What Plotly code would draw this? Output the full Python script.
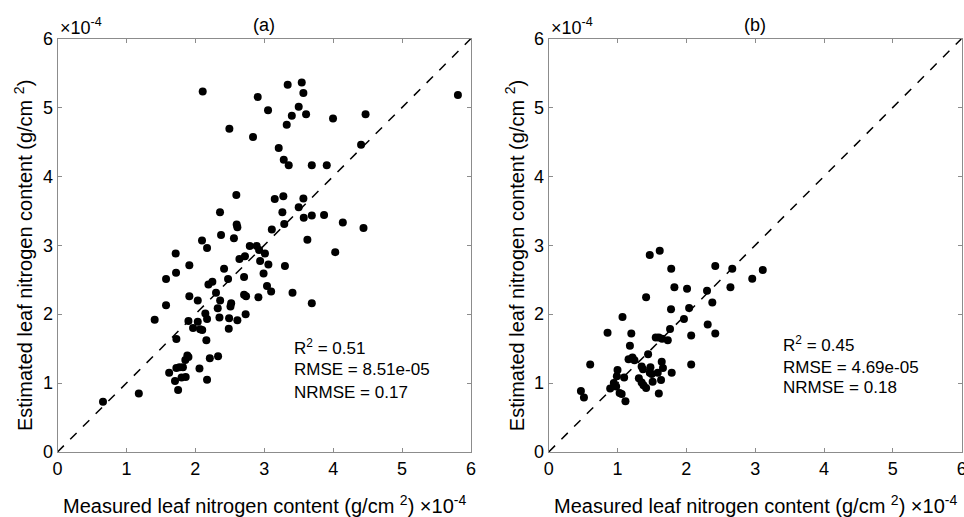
import plotly.graph_objects as go

# values in units of 1e-4 g/cm^2
meas_a = [2.107, 2.494, 2.837, 2.595, 2.358, 2.60, 2.61, 2.373, 2.097, 2.56, 2.17, 2.79, 1.715, 2.72, 2.64,
          3.34, 3.544, 3.568, 2.905, 3.50, 3.055, 3.40, 3.607, 3.998, 4.47, 3.326, 3.21, 4.405, 3.283, 3.355,
          3.69, 3.907, 3.152, 3.277, 3.568, 3.50, 3.263, 3.573, 3.69, 3.868, 3.29, 4.14, 3.11, 4.44, 3.626,
          4.03, 2.89, 2.925, 3.01, 2.94, 3.06, 3.30, 2.99, 3.04, 3.10, 3.41, 2.915, 3.69, 1.913, 1.72,
          1.575, 2.417, 2.707, 2.475, 2.19, 2.247, 2.30, 1.913, 2.035, 2.36, 2.707, 2.736, 1.575, 2.52, 2.51,
          2.325, 2.145, 2.73, 1.41, 1.90, 2.035, 2.17, 2.35, 2.49, 2.61, 1.967, 2.07, 2.10, 2.485, 1.725,
          2.16, 1.884, 1.90, 1.855, 2.21, 2.33, 1.725, 1.77, 1.82, 1.62, 2.06, 1.705, 1.80, 1.86, 1.75,
          2.17, 1.18, 0.66, 5.81]
est_a = [5.23, 4.69, 4.57, 3.73, 3.48, 3.30, 3.26, 3.15, 3.07, 3.10, 2.96, 2.99, 2.88, 2.84, 2.80,
         5.33, 5.36, 5.21, 5.15, 5.01, 4.96, 4.88, 4.90, 4.84, 4.90, 4.75, 4.41, 4.46, 4.24, 4.16,
         4.16, 4.16, 3.67, 3.71, 3.68, 3.55, 3.48, 3.40, 3.43, 3.44, 3.31, 3.33, 3.23, 3.25, 3.08,
         2.90, 2.99, 2.93, 2.88, 2.77, 2.72, 2.70, 2.59, 2.41, 2.33, 2.31, 2.245, 2.16, 2.71, 2.60,
         2.51, 2.66, 2.54, 2.51, 2.43, 2.47, 2.31, 2.26, 2.20, 2.20, 2.28, 2.26, 2.13, 2.16, 2.11,
         2.085, 2.01, 2.00, 1.92, 1.90, 1.89, 1.93, 1.95, 1.94, 1.91, 1.80, 1.78, 1.77, 1.79, 1.64,
         1.62, 1.40, 1.38, 1.335, 1.36, 1.39, 1.22, 1.23, 1.23, 1.15, 1.21, 1.03, 1.08, 1.09, 0.90,
         1.05, 0.85, 0.73, 5.18]

meas_b = [0.468, 0.512, 0.603, 0.855, 1.072, 0.893, 0.946, 0.98, 1.0, 0.99, 1.096, 1.03, 1.06, 1.115,
          1.20, 1.18, 1.16, 1.217, 1.246, 1.31, 1.35, 1.37, 1.35, 1.377, 1.415, 1.444, 1.415, 1.468,
          1.613, 1.478, 1.468, 1.497, 1.51, 1.555, 1.6, 1.647, 1.584, 1.642, 1.66, 1.632, 1.60, 1.73,
          1.763, 1.777, 1.78, 1.826, 1.787, 1.965, 2.01, 2.04, 2.07, 2.07, 2.30, 2.377, 2.31, 2.42,
          2.42, 2.64, 2.667, 2.957, 3.11]
est_b = [0.885, 0.79, 1.27, 1.73, 1.96, 0.92, 1.00, 0.95, 1.19, 1.10, 1.08, 0.856, 0.84, 0.735,
         1.72, 1.54, 1.345, 1.37, 1.33, 1.07, 1.24, 1.20, 1.01, 0.97, 0.93, 1.42, 2.245, 2.86,
         2.92, 1.23, 1.15, 1.13, 1.02, 1.66, 1.66, 1.645, 1.15, 1.31, 1.22, 1.045, 0.85, 1.62,
         1.785, 2.07, 2.66, 2.39, 1.15, 1.93, 2.37, 2.09, 1.69, 1.27, 2.34, 2.17, 1.85, 1.72,
         2.70, 2.39, 2.66, 2.515, 2.64]

panel_titles = ["(a)", "(b)"]
stats_a = ["R<sup>2</sup> = 0.51", "RMSE = 8.51e-05", "NRMSE = 0.17"]
stats_b = ["R<sup>2</sup> = 0.45", "RMSE = 4.69e-05", "NRMSE = 0.18"]
axis_range = [0, 6]
tick_vals = [0, 1, 2, 3, 4, 5, 6]

W, H = 964, 517
FONT = "Arial, Liberation Sans, sans-serif"
AX_COL = "#8c8c8c"

fig = go.Figure()
fig.add_trace(go.Scatter(x=meas_a, y=est_a, mode="markers", xaxis="x", yaxis="y",
                         marker=dict(color="black", size=8), showlegend=False))
fig.add_trace(go.Scatter(x=axis_range, y=axis_range, mode="lines", xaxis="x", yaxis="y",
                         line=dict(color="black", dash="dash", width=1.5), showlegend=False))
fig.add_trace(go.Scatter(x=meas_b, y=est_b, mode="markers", xaxis="x2", yaxis="y2",
                         marker=dict(color="black", size=8), showlegend=False))
fig.add_trace(go.Scatter(x=axis_range, y=axis_range, mode="lines", xaxis="x2", yaxis="y2",
                         line=dict(color="black", dash="dash", width=1.5), showlegend=False))

xdom_a = [57.5 / W, 471 / W]
xdom_b = [548.7 / W, 961.7 / W]
ydom = [(H - 452) / H, (H - 38.5) / H]

def ax(domain, anchor):
    return dict(domain=domain, anchor=anchor, range=axis_range, tickvals=tick_vals,
                showline=True, linecolor=AX_COL, linewidth=1, mirror="ticks",
                ticks="inside", ticklen=4, tickcolor=AX_COL, showgrid=False, zeroline=False,
                automargin=False, ticklabeloverflow="allow",
                tickfont=dict(size=18, color="black", family=FONT))

fig.update_layout(
    width=W, height=H, margin=dict(l=0, r=0, t=0, b=0, autoexpand=False),
    plot_bgcolor="white", paper_bgcolor="white",
    font=dict(family=FONT, color="black"),
    xaxis=ax(xdom_a, "y"), yaxis=ax(ydom, "x"),
    xaxis2=ax(xdom_b, "y2"), yaxis2=ax(ydom, "x2"),
)

annots = []
for dom, title in [(xdom_a, panel_titles[0]), (xdom_b, panel_titles[1])]:
    cx = (dom[0] + dom[1]) / 2
    annots.append(dict(text=title, x=cx, y=(H - 25) / H, xref="paper", yref="paper",
                       showarrow=False, font=dict(size=18), xanchor="center", yanchor="middle"))
    annots.append(dict(text="\u00d710<sup>-4</sup>", x=dom[0], y=(H - 26) / H, xref="paper", yref="paper",
                       showarrow=False, font=dict(size=18), xanchor="left", yanchor="middle"))
    annots.append(dict(text="Measured leaf nitrogen content (g/cm <sup>2</sup>) \u00d710<sup>-4</sup>",
                       x=cx, y=(H - 504) / H, xref="paper", yref="paper", showarrow=False,
                       font=dict(size=20), xanchor="center", yanchor="middle"))
    annots.append(dict(text="Estimated leaf nitrogen content (g/cm <sup>2</sup>)", textangle=-90,
                       x=(dom[0] * W - 33.5) / W, y=(H - 256) / H, xref="paper", yref="paper",
                       showarrow=False, font=dict(size=20), xanchor="center", yanchor="middle"))
for stats, xref, yref, sx, sys in [(stats_a, "x", "y", 3.40, [1.52, 1.20, 0.87]),
                                   (stats_b, "x2", "y2", 3.37, [1.57, 1.23, 0.93])]:
    for s, yy in zip(stats, sys):
        annots.append(dict(text=s, x=sx, y=yy, xref=xref, yref=yref, showarrow=False,
                           font=dict(size=17), xanchor="left", yanchor="middle"))
fig.update_layout(annotations=annots)

fig.write_html("out.html")
